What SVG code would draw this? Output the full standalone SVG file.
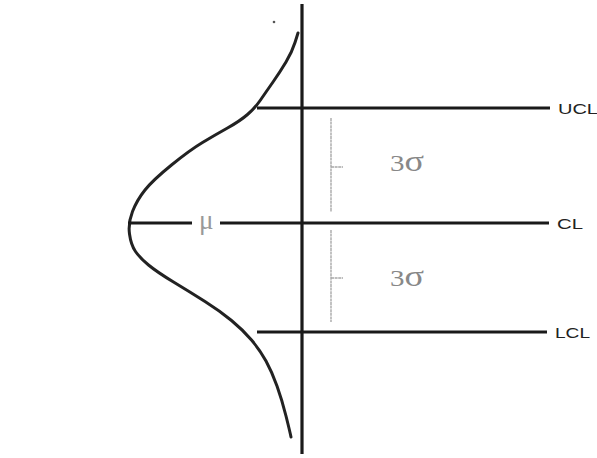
<svg xmlns="http://www.w3.org/2000/svg" width="597" height="458" viewBox="0 0 597 458">
<style>
.ln{stroke:#1a1a1a;stroke-width:3.2;fill:none;stroke-linecap:butt}
.crv{stroke:#222;stroke-width:3;fill:none;stroke-linecap:round;stroke-linejoin:round}
.dim{stroke:#a8a8a8;stroke-width:1.4;fill:none;stroke-dasharray:3 0.6}
.lbl{font-family:"Liberation Sans",Arial,sans-serif;font-size:15.5px;fill:#222}
.sig{font-family:"Liberation Serif","Times New Roman",serif;font-size:24px;fill:#888}
.mu{font-family:"Liberation Serif","Times New Roman",serif;font-size:27px;fill:#999}
</style>
<rect width="597" height="458" fill="#fff"/>
<g id="curve">
<path class="crv" d="M298,33 L295,42.5 Q292,52 286,62 Q280,72 273,82 Q266,92 260.5,100 Q255,108 247.5,114.5 Q240,121 227.5,128 Q215,135 202.5,142.5 Q190,150 171.5,165 Q153,180 145,190 Q137,200 132.5,211.5 Q128,223 129.5,234 Q131,245 135.5,251.5 Q140,258 148.5,265 Q157,272 173.5,282 Q190,292 205,301.5 Q220,311 231.5,320.5 Q243,330 251.5,340 Q260,350 266,361 Q272,372 277,386 Q282,400 286,416 Q290,432 291,437"/>
<circle cx="274" cy="22" r="1.3" fill="#555"/>
</g>
<g id="connectors">
<line class="ln" x1="302" y1="4" x2="302" y2="454"/>
<line class="ln" x1="257" y1="108" x2="550" y2="108"/>
<line class="ln" x1="128" y1="223" x2="192" y2="223"/>
<line class="ln" x1="220" y1="223" x2="549" y2="223"/>
<line class="ln" x1="257" y1="332" x2="547" y2="332"/>
<line class="dim" x1="331" y1="118" x2="331" y2="212"/>
<line class="dim" x1="331" y1="167" x2="343" y2="167"/>
<line class="dim" x1="331" y1="230" x2="331" y2="322"/>
<line class="dim" x1="331" y1="278" x2="343" y2="278"/>
</g>
<g id="labels">
<text class="lbl" x="558" y="114" textLength="40" lengthAdjust="spacingAndGlyphs">UCL</text>
<text class="lbl" x="557" y="229" textLength="26" lengthAdjust="spacingAndGlyphs">CL</text>
<text class="lbl" x="555" y="338" textLength="35" lengthAdjust="spacingAndGlyphs">LCL</text>
<text class="mu" x="199" y="229">μ</text>
<text class="sig" x="390" y="171" textLength="34" lengthAdjust="spacingAndGlyphs">3<tspan font-size="30">σ</tspan></text>
<text class="sig" x="390" y="286" textLength="34" lengthAdjust="spacingAndGlyphs">3<tspan font-size="30">σ</tspan></text>
</g>
</svg>
